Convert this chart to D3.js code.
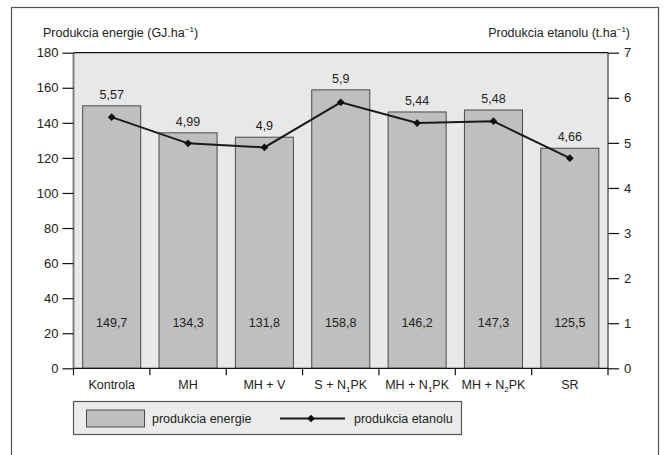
<!DOCTYPE html>
<html>
<head>
<meta charset="utf-8">
<script src="https://cdn.jsdelivr.net/npm/d3@7"></script>
<style>
  html, body { margin: 0; padding: 0; background: #fff; }
  svg { display: block; font-family: "Liberation Sans", Arial, sans-serif; }
</style>
</head>
<body>
<svg id="chart" width="667" height="455"></svg>
<script>
// Treatments (an "_n" marks a subscript digit)
const categories = ["Kontrola", "MH", "MH + V", "S + N_1PK", "MH + N_1PK", "MH + N_2PK", "SR"];
// Energy production, GJ/ha (bars, left axis)
const energy = [149.7, 134.3, 131.8, 158.8, 146.2, 147.3, 125.5];
// Ethanol production, t/ha (line, right axis)
const ethanol = [5.57, 4.99, 4.9, 5.9, 5.44, 5.48, 4.66];
const leftTicks = [0, 20, 40, 60, 80, 100, 120, 140, 160, 180];
const rightTicks = [0, 1, 2, 3, 4, 5, 6, 7];
const leftTitle = "Produkcia energie (GJ.ha";
const rightTitle = "Produkcia etanolu (t.ha";
const legendLabels = ["produkcia energie", "produkcia etanolu"];

const FS = 12.5;
const TXT = "#222";
const svg = d3.select("#chart");
const fmt = v => String(v).replace(".", ",");

const plot = { left: 73.5, right: 608, top: 52.7, bottom: 368.3 };

const x = d3.scaleBand().domain(categories)
  .range([plot.left, plot.right]).paddingInner(0.24).paddingOuter(0.12);
const xCell = d3.scaleBand().domain(categories).range([plot.left, plot.right]).padding(0);
const yL = d3.scaleLinear().domain([0, 180]).range([plot.bottom, plot.top]);
const yR = d3.scaleLinear().domain([0, 7]).range([plot.bottom, plot.top]);

// outer frame
svg.append("rect").attr("x", 11.5).attr("y", 7.5).attr("width", 647).attr("height", 460)
  .attr("fill", "#fff").attr("stroke", "#555").attr("stroke-width", 1.2);

// plot background
svg.append("rect").attr("x", plot.left).attr("y", plot.top)
  .attr("width", plot.right - plot.left).attr("height", plot.bottom - plot.top)
  .attr("fill", "#e8e8e8");

// axis titles with superscript -1
function titleWithSup(sel, text) {
  sel.append("tspan").text(text);
  sel.append("tspan").attr("font-size", 8).attr("dy", -5).text("\u22121");
  sel.append("tspan").attr("dy", 5).text(")");
}
svg.append("text").attr("x", 43).attr("y", 37).attr("font-size", FS).attr("fill", TXT)
  .call(titleWithSup, leftTitle);
svg.append("text").attr("x", 630).attr("y", 37).attr("font-size", FS).attr("fill", TXT)
  .attr("text-anchor", "end").call(titleWithSup, rightTitle);

// bars
svg.append("g").selectAll("rect").data(energy).join("rect")
  .attr("x", (d, i) => x(categories[i]))
  .attr("y", d => yL(d))
  .attr("width", x.bandwidth())
  .attr("height", d => yL(0) - yL(d))
  .attr("fill", "#bfbfbf").attr("stroke", "#4a4a4a").attr("stroke-width", 1);

// energy values inside bars
svg.append("g").selectAll("text").data(energy).join("text")
  .attr("x", (d, i) => x(categories[i]) + x.bandwidth() / 2)
  .attr("y", 327).attr("text-anchor", "middle").attr("font-size", FS).attr("fill", TXT)
  .text(d => fmt(d));

// ethanol values above bars
svg.append("g").selectAll("text").data(ethanol).join("text")
  .attr("x", (d, i) => x(categories[i]) + x.bandwidth() / 2)
  .attr("y", (d, i) => yL(energy[i]) - 7).attr("text-anchor", "middle")
  .attr("font-size", FS).attr("fill", TXT)
  .text(d => fmt(d));

// axes lines
svg.append("line").attr("x1", plot.left).attr("x2", plot.right).attr("y1", plot.top).attr("y2", plot.top)
  .attr("stroke", "#111").attr("stroke-width", 1.2);
svg.append("line").attr("x1", plot.left).attr("x2", plot.left).attr("y1", plot.top).attr("y2", plot.bottom)
  .attr("stroke", "#777").attr("stroke-width", 1.8);
svg.append("line").attr("x1", plot.right).attr("x2", plot.right).attr("y1", plot.top).attr("y2", plot.bottom)
  .attr("stroke", "#777").attr("stroke-width", 1.8);

// left axis
const gL = svg.append("g").attr("transform", `translate(${plot.left},0)`)
  .call(d3.axisLeft(yL).tickValues(leftTicks).tickSize(11).tickPadding(4).tickFormat(d => d));
// right axis
const gR = svg.append("g").attr("transform", `translate(${plot.right},0)`)
  .call(d3.axisRight(yR).tickValues(rightTicks).tickSize(11).tickPadding(5).tickFormat(d => d));
[gL, gR].forEach(g => {
  g.select(".domain").remove();
  g.selectAll(".tick line").attr("stroke", "#111").attr("stroke-width", 1.2);
  g.selectAll(".tick text").attr("font-size", FS + 0.5).attr("fill", TXT)
    .attr("font-family", "Liberation Sans, Arial, sans-serif");
});

// bottom axis: ticks at category boundaries
const bounds = categories.map(c => xCell(c)).concat([plot.right]);
svg.append("line").attr("x1", plot.left).attr("x2", plot.right).attr("y1", plot.bottom).attr("y2", plot.bottom)
  .attr("stroke", "#111").attr("stroke-width", 1.2);
svg.append("g").selectAll("line").data(bounds).join("line")
  .attr("x1", d => d).attr("x2", d => d).attr("y1", plot.bottom).attr("y2", plot.bottom + 7)
  .attr("stroke", "#111").attr("stroke-width", 1.2);

// category labels with subscripts
const xl = svg.append("g").selectAll("text").data(categories).join("text")
  .attr("x", d => xCell(d) + xCell.bandwidth() / 2).attr("y", 389)
  .attr("text-anchor", "middle").attr("font-size", FS).attr("fill", TXT);
xl.each(function (d) {
  const t = d3.select(this);
  const parts = d.split(/_(\d)/);
  parts.forEach((p, k) => {
    if (k % 2 === 1) {
      t.append("tspan").attr("font-size", 8).attr("dy", 3).text(p);
    } else if (p) {
      t.append("tspan").attr("dy", k > 0 ? -3 : 0).text(p);
    }
  });
});

// ethanol line and diamond markers (rotated squares)
const line = d3.line().x((d, i) => xCell(categories[i]) + xCell.bandwidth() / 2).y(d => yR(d));
svg.append("path").datum(ethanol).attr("d", line)
  .attr("fill", "none").attr("stroke", "#1a1a1a").attr("stroke-width", 2);
const marker = d3.symbol().type(d3.symbolSquare).size(30);
svg.append("g").selectAll("path").data(ethanol).join("path")
  .attr("d", marker)
  .attr("transform", (d, i) => `translate(${xCell(categories[i]) + xCell.bandwidth() / 2},${yR(d)}) rotate(45)`)
  .attr("fill", "#111");

// legend
const lg = svg.append("g");
lg.append("rect").attr("x", 73.5).attr("y", 401.5).attr("width", 388).attr("height", 33)
  .attr("fill", "#ebebeb").attr("stroke", "#555").attr("stroke-width", 1.2);
lg.append("rect").attr("x", 86.5).attr("y", 410).attr("width", 58).attr("height", 17)
  .attr("fill", "#bfbfbf").attr("stroke", "#4a4a4a");
lg.append("text").attr("x", 152).attr("y", 423).attr("font-size", FS).attr("fill", TXT).text(legendLabels[0]);
lg.append("line").attr("x1", 280).attr("x2", 345).attr("y1", 418.5).attr("y2", 418.5)
  .attr("stroke", "#1a1a1a").attr("stroke-width", 2);
lg.append("path").attr("d", marker).attr("transform", "translate(311,418.5) rotate(45)").attr("fill", "#111");
lg.append("text").attr("x", 354).attr("y", 423).attr("font-size", FS).attr("fill", TXT).text(legendLabels[1]);
</script>
</body>
</html>
